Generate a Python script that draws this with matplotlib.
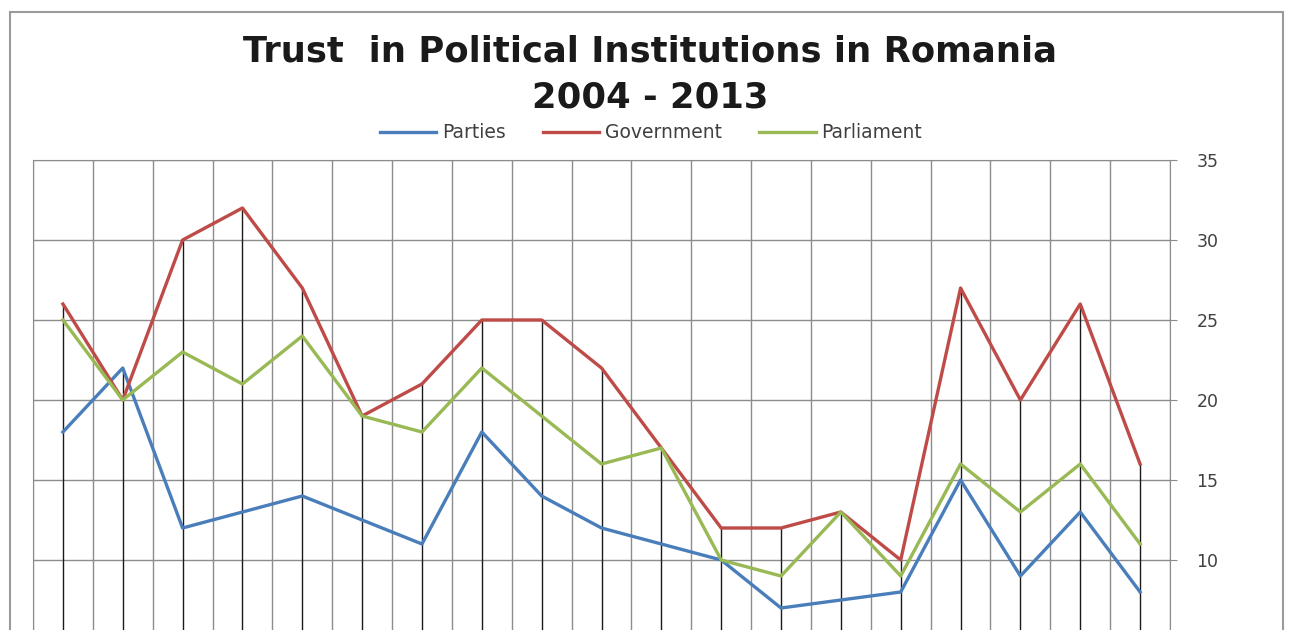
import matplotlib
matplotlib.use("Agg")
import matplotlib.pyplot as plt
from matplotlib.patches import Rectangle
import numpy as np

periods = list(range(1, 20))
parties = [18, 22, 12, 13, 14, 12.5, 11, 18, 14, 12, 11, 10, 7, 7.5, 8, 15, 9, 13, 8]
government = [26, 20, 30, 32, 27, 19, 21, 25, 25, 22, 17, 12, 12, 13, 10, 27, 20, 26, 16]
parliament = [25, 20, 23, 21, 24, 19, 18, 22, 19, 16, 17, 10, 9, 13, 9, 16, 13, 16, 11]
yticks = [10, 15, 20, 25, 30, 35]

W, H = 1295, 630
fig = plt.figure(figsize=(W / 100, H / 100), dpi=100)
fig.patch.set_facecolor("white")

# outer chart border
fig.add_artist(Rectangle((10 / W, -0.05), (1283 - 10) / W, (H - 12) / H + 0.05,
                         transform=fig.transFigure, fill=False,
                         edgecolor="#9a9a9a", linewidth=1.5))

ax = fig.add_axes([33 / W, 0, (1170 - 33) / W, (H - 160) / H])
x = np.arange(len(periods))
ybot = (720 - 630) / 16.0
ax.set_xlim(-0.5, len(periods) - 0.5)
ax.set_ylim(ybot, 35)

# gridlines
for b in np.arange(-0.5, len(periods), 1.0):
    ax.axvline(b, color="#8c8c8c", lw=1.0, zorder=1)
for t in yticks:
    ax.axhline(t, color="#8c8c8c", lw=1.0, zorder=1)

# drop lines
tops = np.maximum(np.maximum(parties, government), parliament)
ax.vlines(x, ybot, tops, color="#1a1a1a", lw=1.0, zorder=2)

ax.plot(x, parties, color="#4a7ebb", lw=2.4, label="Parties", zorder=3)
ax.plot(x, government, color="#be4b48", lw=2.4, label="Government", zorder=3)
ax.plot(x, parliament, color="#98b954", lw=2.4, label="Parliament", zorder=3)

ax.yaxis.tick_right()
ax.set_yticks(yticks)
ax.set_yticklabels([str(t) for t in yticks], fontsize=12.5, color="#404040",
                   family="DejaVu Sans")
ax.tick_params(axis="y", length=5, color="#8c8c8c", pad=14)
ax.set_xticks([])
for s in ["left", "right", "top"]:
    ax.spines[s].set_color("#8c8c8c")
ax.spines["bottom"].set_visible(False)

fig.text(650 / W, 1 - 52 / H, "Trust  in Political Institutions in Romania",
         ha="center", va="center", fontsize=25.5, fontweight="bold",
         family="DejaVu Sans", color="#1a1a1a")
fig.text(650 / W, 1 - 97 / H, "2004 - 2013",
         ha="center", va="center", fontsize=25.5, fontweight="bold",
         family="DejaVu Sans", color="#1a1a1a")

fig.legend(loc="center", bbox_to_anchor=(651 / W, 1 - 133 / H), ncol=3,
           frameon=False, prop={"family": "DejaVu Sans", "size": 13.5},
           handlelength=3.0, handletextpad=0.3, columnspacing=2.0,
           labelcolor="#404040")

fig.savefig("out.png", dpi=100, facecolor="white")
